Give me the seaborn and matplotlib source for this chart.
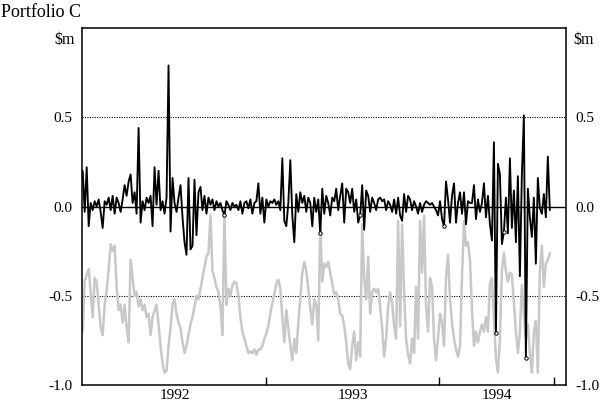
import numpy as np
import pandas as pd
import matplotlib
matplotlib.use("Agg")
import matplotlib.pyplot as plt
import seaborn as sns

# Tägliche Gewinne/Verluste (schwarz) und VaR-Grenze (grau), $m, je Beobachtung
pnl = [
    0.20, -0.03, 0.22, -0.11, 0.02, -0.02, 0.03, 0.00, 0.04, -0.03,
    -0.12, 0.03, 0.01, 0.05, -0.02, 0.06, -0.04, 0.05, 0.02, -0.03,
    0.04, 0.12, 0.06, 0.14, 0.18, 0.02, 0.08, -0.04, 0.44, -0.09,
    0.03, -0.02, 0.05, 0.02, 0.06, -0.11, 0.22, 0.01, 0.20, -0.02,
    0.03, -0.04, 0.05, 0.79, -0.14, 0.16, 0.02, -0.03, 0.05, 0.12,
    -0.06, -0.20, -0.27, 0.16, -0.24, -0.22, 0.15, -0.16, 0.08, 0.11,
    -0.02, 0.06, -0.04, 0.05, 0.01, 0.04, -0.02, 0.03, 0.00, 0.02,
    -0.02, -0.05, 0.03, 0.01, -0.02, 0.02, 0.00, 0.01, -0.02, 0.03,
    -0.04, 0.02, 0.03, -0.01, 0.04, -0.04, 0.02, 0.03, 0.13, -0.04,
    0.05, -0.09, 0.04, 0.00, 0.03, 0.02, 0.04, 0.01, 0.03, -0.02,
    0.27, -0.08, -0.11, 0.02, 0.26, -0.05, -0.20, 0.07, -0.03, 0.08,
    0.02, 0.06, -0.03, 0.05, 0.02, -0.11, 0.05, -0.03, 0.04, -0.15,
    0.10, -0.04, 0.06, 0.02, -0.05, 0.05, 0.03, 0.10, -0.02, 0.06,
    0.13, -0.09, 0.10, 0.08, 0.02, 0.10, -0.03, 0.04, -0.09, -0.05,
    0.12, -0.13, 0.09, 0.06, -0.03, 0.05, 0.02, -0.02, 0.04, 0.05,
    0.03, 0.04, -0.02, 0.03, 0.01, -0.03, 0.04, -0.04, 0.05, -0.05,
    -0.08, 0.07, -0.03, 0.06, 0.04, -0.02, 0.03, 0.00, -0.04, 0.02,
    -0.03, 0.01, 0.03, 0.02, 0.01, 0.02, 0.00, -0.02, -0.05, 0.03,
    -0.07, -0.11, 0.14, 0.04, -0.09, 0.06, 0.13, -0.09, 0.02, 0.08,
    -0.04, 0.08, -0.10, 0.03, 0.02, 0.02, 0.12, -0.07, 0.04, -0.03,
    0.02, 0.13, -0.06, 0.06, -0.10, -0.19, 0.36, -0.71, 0.24, 0.18,
    -0.21, -0.14, 0.05, -0.15, 0.27, -0.12, 0.09, -0.20, 0.17, -0.39,
    0.18, 0.51, -0.85, 0.10, -0.06, -0.17, 0.05, -0.32, 0.16, -0.01,
    -0.04, 0.07, -0.06, 0.28, -0.02,
]

var_limit = [
    -0.70, -0.42, -0.38, -0.35, -0.48, -0.62, -0.40, -0.42, -0.55, -0.68,
    -0.72, -0.55, -0.47, -0.35, -0.21, -0.25, -0.22, -0.45, -0.58, -0.55,
    -0.65, -0.55, -0.68, -0.76, -0.30, -0.40, -0.50, -0.48, -0.56, -0.52,
    -0.58, -0.55, -0.62, -0.60, -0.72, -0.62, -0.58, -0.55, -0.66, -0.78,
    -0.88, -0.93, -0.92, -0.78, -0.68, -0.55, -0.52, -0.60, -0.65, -0.68,
    -0.76, -0.82, -0.78, -0.72, -0.66, -0.62, -0.56, -0.50, -0.52, -0.46,
    -0.40, -0.34, -0.28, -0.26, -0.05, -0.36, -0.40, -0.45, -0.48, -0.56,
    -0.72, -0.05, -0.55, -0.46, -0.50, -0.44, -0.42, -0.43, -0.50, -0.62,
    -0.70, -0.74, -0.78, -0.82, -0.81, -0.82, -0.80, -0.83, -0.80, -0.80,
    -0.78, -0.74, -0.71, -0.67, -0.60, -0.54, -0.49, -0.43, -0.41, -0.46,
    -0.62, -0.76, -0.58, -0.68, -0.78, -0.86, -0.74, -0.82, -0.65, -0.52,
    -0.37, -0.31, -0.36, -0.46, -0.57, -0.66, -0.52, -0.55, -0.75, -0.10,
    -0.42, -0.32, -0.34, -0.31, -0.37, -0.43, -0.49, -0.48, -0.52, -0.60,
    -0.61, -0.67, -0.76, -0.88, -0.91, -0.78, -0.70, -0.86, -0.76, -0.84,
    -0.10, -0.40, -0.52, -0.28, -0.60, -0.48, -0.46, -0.48, -0.46, -0.56,
    -0.68, -0.84, -0.74, -0.56, -0.48, -0.54, -0.67, -0.74, -0.08, -0.67,
    -0.10, -0.48, -0.74, -0.83, -0.88, -0.74, -0.82, -0.45, -0.74, -0.08,
    -0.37, -0.05, -0.56, -0.70, -0.40, -0.45, -0.74, -0.86, -0.74, -0.60,
    -0.65, -0.78, -0.40, -0.27, -0.52, -0.65, -0.74, -0.80, -0.84, -0.78,
    -0.40, -0.08, -0.22, -0.20, -0.30, -0.58, -0.78, -0.70, -0.76, -0.70,
    -0.66, -0.70, -0.62, -0.70, -0.43, -0.40, -0.62, -0.85, -0.93, -0.74,
    -0.36, -0.26, -0.36, -0.42, -0.37, -0.38, -0.54, -0.70, -0.82, -0.70,
    -0.44, -0.60, -0.74, -0.66, -0.82, -0.93, -0.70, -0.64, -0.93, -0.36,
    -0.22, -0.45, -0.32, -0.30, -0.26,
]

# Beobachtungen, an denen ein Verlust markiert ist
flagged = [71, 119, 139, 181, 207, 211, 222]

# Jahresgrenzen (Beobachtungsnummer) und Beschriftungen
year_bounds = [0, 92, 178.5, 236]
years = ["1992", "1993", "1994"]

df = pd.DataFrame({"obs": np.arange(len(pnl)), "pnl": pnl, "var": var_limit})
flags = df.loc[flagged]

sns.set_theme(style="white")
plt.rcParams["font.family"] = ["Liberation Serif", "DejaVu Serif"]

fig, ax = plt.subplots(figsize=(6, 4.05), dpi=100)
fig.subplots_adjust(left=0.137, right=0.943, top=0.931, bottom=0.049)

ax.axhline(0.5, color="black", lw=0.8, ls=(0, (1, 1.2)), zorder=1)
ax.axhline(-0.5, color="black", lw=0.8, ls=(0, (1, 1.2)), zorder=1)
ax.axhline(0.0, color="black", lw=1.0, zorder=1)

sns.lineplot(data=df, x="obs", y="var", color="#c8c8c8", lw=1.8, ax=ax, zorder=2)
sns.lineplot(data=df, x="obs", y="pnl", color="black", lw=1.35, ax=ax, zorder=3)
sns.scatterplot(data=flags, x="obs", y="pnl", marker="o", s=6, facecolor="white",
                edgecolor="black", linewidth=0.7, ax=ax, zorder=4)

ax.set_xlim(-0.25, 242)
ax.set_ylim(-1.0, 1.0)
ax.set_xlabel("")
ax.set_ylabel("")

# Jahresstriche und Jahreszahlen in der Mitte
ax.set_xticks(year_bounds[1:])
ax.set_xticklabels([])
mids = [(a + b) / 2 for a, b in zip(year_bounds[:-1], year_bounds[1:])]
ax.set_xticks(mids, minor=True)
ax.set_xticklabels(years, minor=True)
ax.tick_params(axis="x", which="major", direction="in", length=6, width=1.0,
               color="black", bottom=True)
ax.tick_params(axis="x", which="minor", length=0, pad=3, labelsize=11,
               labelcolor="black")

yt = [-1.0, -0.5, 0.0, 0.5]
ax.set_yticks(yt)
ax.set_yticklabels([f"{v:.1f}" for v in yt])
ax.tick_params(axis="y", length=0, pad=7, labelsize=11, labelcolor="black",
               labelleft=True, labelright=True)

for s in ax.spines.values():
    s.set_color("black")
    s.set_linewidth(1.1)

ax.text(-0.015, 0.966, "$m", transform=ax.transAxes, ha="right", va="center",
        fontsize=11.5, color="black")
ax.text(1.015, 0.966, "$m", transform=ax.transAxes, ha="left", va="center",
        fontsize=11.5, color="black")
fig.text(0.002, 0.970, "Portfolio C", ha="left", va="center", fontsize=13,
         color="black")

fig.savefig("out.png", dpi=100)
